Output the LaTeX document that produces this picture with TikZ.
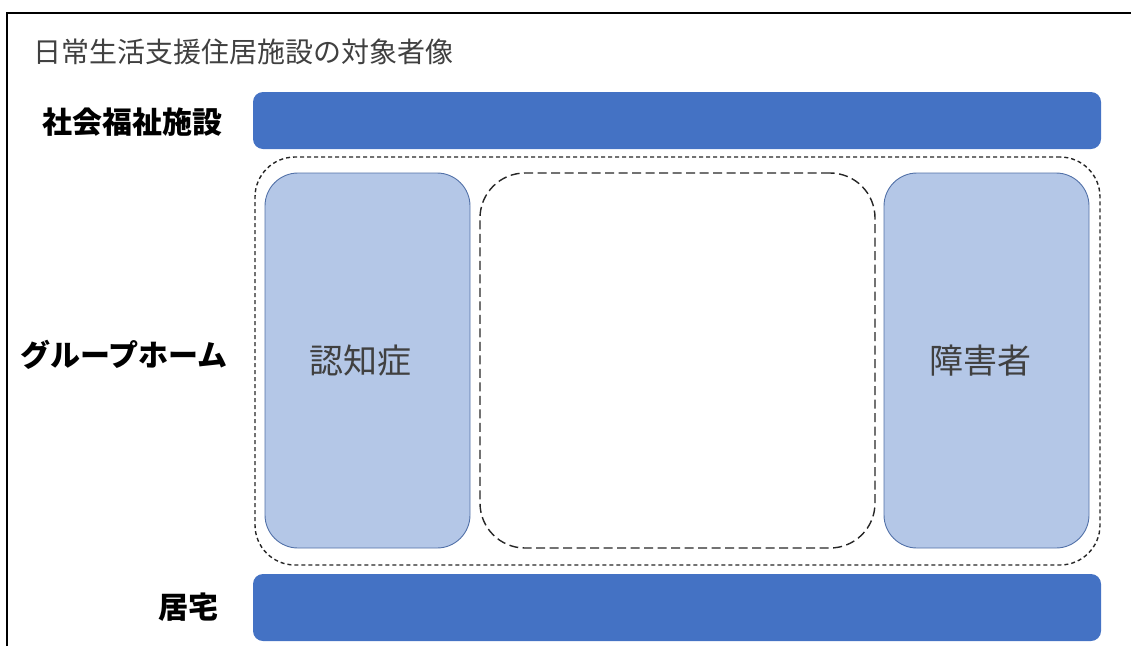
\documentclass[tikz,border=0pt]{standalone}
\usepackage{fontspec}
\newfontfamily\jp{Noto Sans CJK JP}
\definecolor{barblue}{HTML}{4472C4}
\definecolor{lightblue}{HTML}{B4C7E7}
\definecolor{edgeblue}{HTML}{5271A8}
\definecolor{txtgray}{HTML}{404040}
\tikzset{
  bar/.style={fill=barblue, draw=none, rounded corners=10pt, minimum width=848pt, inner sep=0pt},
  lightbox/.style={fill=lightblue, draw=edgeblue, line width=0.9pt, rounded corners=33pt,
    minimum width=205pt, minimum height=375pt, inner sep=0pt, text=txtgray,
    font=\jp\fontsize{34pt}{40pt}\selectfont},
  rowlabel/.style={anchor=east, inner sep=0pt, font=\jp\bfseries\fontsize{30pt}{36pt}\selectfont},
  outerdash/.style={draw=black!85, line width=1.4pt, dash pattern=on 4pt off 3pt, rounded corners=40pt,
    minimum width=845pt, minimum height=408pt, inner sep=0pt},
  middash/.style={draw=black!85, line width=1.4pt, dash pattern=on 9pt off 4.5pt, rounded corners=45pt,
    minimum width=395pt, minimum height=375pt, inner sep=0pt}
}
\begin{document}
\begin{tikzpicture}[x=1pt,y=-1pt]
\useasboundingbox (0,0) rectangle (1131,646);
\draw[line width=2pt] (7,646) -- (7,13) -- (1131,13);
\node[anchor=west, inner sep=0pt, text=txtgray, font=\jp\fontsize{28pt}{33pt}\selectfont] (title) at (33,52) {日常生活支援住居施設の対象者像};
\node[bar, minimum height=57pt] (facility) at (677,120.5) {};
\node[bar, minimum height=67pt] (home) at (677,607.5) {};
\node[outerdash] (group) at (677.5,361) {};
\node[middash] (mid) at (677.5,360.5) {};
\node[lightbox] (dementia) at (367.5,360.5) {\hspace*{-14pt}認知症};
\node[lightbox] (disabled) at (986.5,360.5) {\hspace*{-12pt}障害者};
\node[rowlabel] (lfacility) at (223,122) {社会福祉施設};
\node[rowlabel] (lgroup) at (228,355) {グループホーム};
\node[rowlabel] (lhome) at (219,607) {居宅};
\end{tikzpicture}
\end{document}
